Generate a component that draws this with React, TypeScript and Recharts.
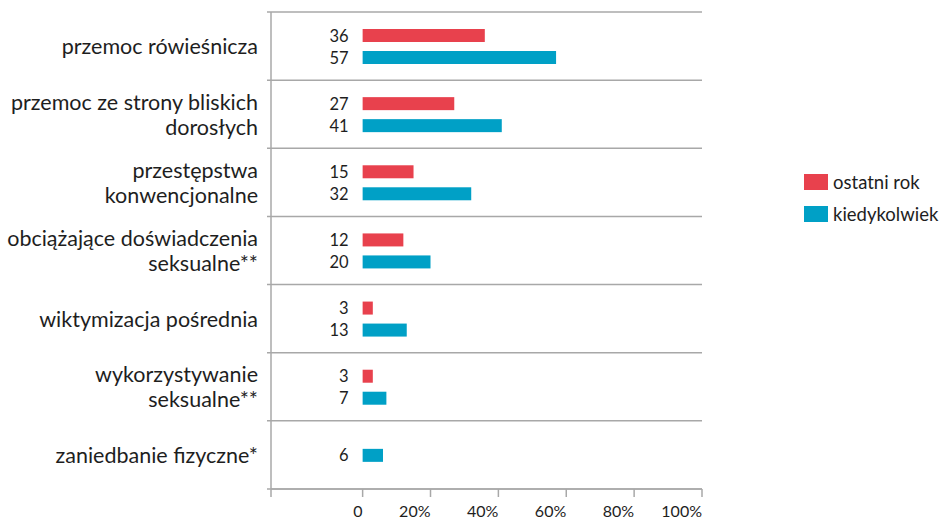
import React from 'react';
import {
  BarChart,
  Bar,
  XAxis,
  YAxis,
  CartesianGrid,
  Legend,
} from 'recharts';

const categories = [
  'przemoc rówieśnicza',
  'przemoc ze strony bliskich\ndorosłych',
  'przestępstwa\nkonwencjonalne',
  'obciążające doświadczenia\nseksualne**',
  'wiktymizacja pośrednia',
  'wykorzystywanie\nseksualne**',
  'zaniedbanie fizyczne*',
];
const lastYear: (number | null)[] = [36, 27, 15, 12, 3, 3, null];
const ever = [57, 41, 32, 20, 13, 7, 6];
const seriesNames = ['ostatni rok', 'kiedykolwiek'];
const xTicks = [-27, 0, 20, 40, 60, 80, 100];

const RED = '#e8414d';
const BLUE = '#00a0c6';
const GRID = '#a8a8a8';
const TEXT = '#1e1e1e';
const FONT = 'Lato, "Noto Sans", sans-serif';
const BAR_SIZE = 13;
const BAR_GAP = 9;

const W = 942;
const H = 522;
const MARGIN = { top: 12, right: 240, bottom: 0, left: 0 };
const Y_AXIS_W = 271;
const X_AXIS_H = 33;
const TICK_LEN = 4;

const data = categories.map((name, i) => ({
  name,
  lastYear: lastYear[i],
  ever: ever[i],
}));

const CategoryTick = ({ x, y, payload }: any) => {
  const lines = String(payload.value).split('\n');
  const lh = 25;
  const y0 = y - ((lines.length - 1) * lh) / 2;
  return (
    <text x={x} y={y0} textAnchor="end" fill={TEXT} fontSize={21.5} fontFamily={FONT}>
      {lines.map((l, i) => (
        <tspan key={i} x={x} dy={i === 0 ? 0 : lh} dominantBaseline="central">
          {l}
        </tspan>
      ))}
    </text>
  );
};

// bar + its value label left of the zero line
const makeShape = (centerWhenAlone: boolean) => (props: any) => {
  const { x, y, width, height, value, fill, payload } = props;
  if (value == null) return <g />;
  const shift = centerWhenAlone && payload.lastYear == null ? -(BAR_SIZE + BAR_GAP) / 2 : 0;
  return (
    <g>
      <rect x={x} y={y + shift} width={width} height={height} fill={fill} />
      <text
        x={x - 14}
        y={y + shift + height / 2}
        textAnchor="end"
        dominantBaseline="central"
        fontSize={16.5}
        fontFamily={FONT}
        fill={TEXT}
      >
        {value}
      </text>
    </g>
  );
};

const CustomLegend = ({ payload }: any) => {
  if (!payload) return null;
  const items = [...payload].sort(
    (a: any, b: any) => seriesNames.indexOf(a.value) - seriesNames.indexOf(b.value)
  );
  return (
    <div style={{ fontFamily: FONT }}>
      {items.map((entry: any, index: number) => (
        <div
          key={`legend-${index}`}
          style={{ display: 'flex', alignItems: 'center', height: 32 }}
        >
          <div style={{ width: 24, height: 16, backgroundColor: entry.color, marginRight: 5 }} />
          <span style={{ fontSize: 18.5, color: TEXT }}>{entry.value}</span>
        </div>
      ))}
    </div>
  );
};

// category boundaries (Excel-style "between tick marks")
const boundaryLines = ({ offset }: any) => {
  const n = categories.length;
  return Array.from({ length: n + 1 }, (_, i) => offset.top + (i * offset.height) / n);
};

export default function App() {
  const plotLeft = MARGIN.left + Y_AXIS_W;
  const plotWidth = W - MARGIN.right - plotLeft;
  return (
    <div style={{ position: 'absolute', left: 0, top: 0, width: W, height: H, background: '#fff' }}>
      <BarChart
        width={W}
        height={H}
        data={data}
        layout="vertical"
        margin={MARGIN}
        barSize={BAR_SIZE}
        barGap={BAR_GAP}
      >
        <CartesianGrid
          vertical={false}
          x={plotLeft - TICK_LEN}
          width={plotWidth + TICK_LEN}
          horizontalCoordinatesGenerator={boundaryLines}
          stroke={GRID}
          strokeWidth={1.5}
        />
        <XAxis
          type="number"
          domain={[-27, 100]}
          ticks={xTicks}
          interval={0}
          height={X_AXIS_H}
          tickSize={8}
          tickMargin={9}
          stroke={GRID}
          strokeWidth={1.5}
          tick={{ fill: TEXT, fontSize: 16, fontFamily: FONT, textAnchor: 'end' }}
          tickFormatter={(v: number) => (v < 0 ? '' : v === 0 ? '0' : `${v}%`)}
        />
        <YAxis
          type="category"
          dataKey="name"
          width={Y_AXIS_W}
          tickSize={TICK_LEN}
          tickMargin={9}
          tickLine={false}
          interval={0}
          stroke={GRID}
          strokeWidth={1.5}
          tick={<CategoryTick />}
        />
        <Legend
          layout="horizontal"
          verticalAlign="middle"
          align="center"
          content={<CustomLegend />}
          wrapperStyle={{ position: 'absolute', left: 804, top: 166, width: 'auto' }}
        />
        <Bar
          dataKey="lastYear"
          name={seriesNames[0]}
          fill={RED}
          isAnimationActive={false}
          shape={makeShape(false)}
        />
        <Bar
          dataKey="ever"
          name={seriesNames[1]}
          fill={BLUE}
          isAnimationActive={false}
          shape={makeShape(true)}
        />
      </BarChart>
    </div>
  );
}
